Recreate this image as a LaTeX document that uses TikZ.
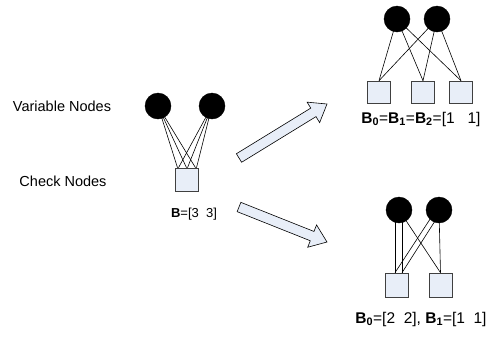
\documentclass[tikz,border=0pt]{standalone}
\usepackage{fontspec}
\setmainfont{Liberation Sans}
\usetikzlibrary{calc}
\definecolor{boxfill}{HTML}{E8EEF8}
\definecolor{boxline}{HTML}{404040}
\tikzset{
  varnode/.style={circle, fill=black, draw=black, minimum size=26pt, inner sep=0pt},
  chknode/.style={rectangle, fill=boxfill, draw=boxline, line width=0.6pt, minimum width=23pt, minimum height=22pt, inner sep=0pt},
  edge/.style={line width=0.6pt, black},
  lbl/.style={font=\fontsize{14.5}{17}\selectfont, inner sep=0pt},
  blbl/.style={font=\fontsize{13}{15}\selectfont, inner sep=0pt},
  rlbl/.style={font=\fontsize{15.5}{18}\selectfont, inner sep=0pt},
  fatarrow/.style={fill=boxfill, draw=black, line width=0.6pt, line join=miter}
}
\newcommand{\bsub}[1]{\textbf{B}\textsubscript{\textbf{#1}}}
\begin{document}
\begin{tikzpicture}[x=1pt, y=-1pt]
\useasboundingbox (0,0) rectangle (494,341);
% labels left
\node[lbl] (vlab) at (62,106) {Variable Nodes};
\node[lbl] (clab) at (63,181) {Check Nodes};

% ---------- left graph
\coordinate (L1) at (158,106);
\coordinate (L2) at (212,106);
\node[chknode, minimum height=23pt] (LS) at (186.5,179.5) {};
\foreach \x in {-9,0,9} \draw[edge] (L1) -- ($(LS.north)+(\x,0)$);
\foreach \x in {-8,1,10} \draw[edge] (L2) -- ($(LS.north)+(\x,0)$);
\node[varnode] (l1) at (L1) {};
\node[varnode] (l2) at (L2) {};
\node[blbl] (lb) at (194,214) {\textbf{B}=[3\ \ 3]};

% ---------- top right graph
\coordinate (T1) at (397,19);
\coordinate (T2) at (437,19);
\node[chknode] (ta) at (379,92) {};
\node[chknode] (tb) at (423,92) {};
\node[chknode] (tc) at (461,92) {};
\foreach \s in {ta,tb,tc} {
  \draw[edge] (T1) -- (\s.north);
  \draw[edge] (T2) -- (\s.north);
}
\node[varnode] (t1) at (T1) {};
\node[varnode] (t2) at (T2) {};
\node[rlbl] (tl) at (421,119) {\bsub{0}=\bsub{1}=\bsub{2}=[1\ \ \ 1]};

% ---------- bottom right graph
\coordinate (R1) at (399,210);
\coordinate (R2) at (439,210);
\node[chknode, minimum height=24pt] (ra) at (396.5,285) {};
\node[chknode, minimum height=24pt] (rb) at (440.5,285) {};
\draw[edge] ($(R1)+(-4,0)$) -- ($(ra.north)+(-1.5,0)$);
\draw[edge] ($(R1)+(3,0)$) -- ($(ra.north)+(5.5,0)$);
\draw[edge] (R1) -- (rb.north);
\draw[edge] ($(R2)+(-3,0)$) -- ($(ra.north)+(-1.5,0)$);
\draw[edge] ($(R2)+(3,0)$) -- ($(ra.north)+(5.5,0)$);
\draw[edge] (R2) -- (rb.north);
\node[varnode] (r1) at (R1) {};
\node[varnode] (r2) at (R2) {};
\node[rlbl] (rl) at (421,319) {\bsub{0}=[2\ \ 2], \bsub{1}=[1\ \ 1]};

% ---------- arrows
\coordinate (ua) at (239,158);
\coordinate (ub) at (327,104);
\coordinate (da) at (239,207);
\coordinate (db) at (327,242);
\foreach \a/\b in {ua/ub, da/db} {
  \coordinate (h) at ($(\b)!16pt!(\a)$);
  \draw[fatarrow] ($(\a)!5pt!90:(\b)$) -- ($(h)!5pt!90:(\b)$) -- ($(h)!12pt!90:(\b)$) -- (\b)
    -- ($(h)!12pt!-90:(\b)$) -- ($(h)!5pt!-90:(\b)$) -- ($(\a)!5pt!-90:(\b)$) -- cycle;
}
\end{tikzpicture}
\end{document}
